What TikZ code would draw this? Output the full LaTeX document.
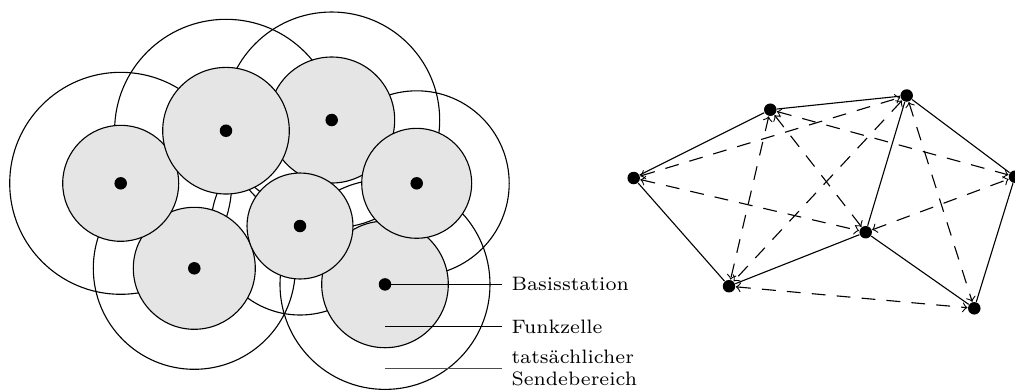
\documentclass[tikz,border=0pt]{standalone}
\begin{document}
\begin{tikzpicture}[x=0.36pt,y=-0.36pt,
  sendering/.style={draw=black, line width=0.4pt},
  cell/.style={draw=black, fill=black!10, line width=0.4pt},
  station/.style={circle, fill=black, draw=none, inner sep=0pt, minimum size=4.5pt},
  link/.style={draw=black, line width=0.4pt},
  dlink/.style={draw=black, line width=0.4pt, dash pattern=on 5pt off 4pt, <->, >=to},
  lbl/.style={anchor=west, font=\scriptsize, align=left}]
\useasboundingbox (0,0) rectangle (1015,390);
% transmission ranges
\foreach \cx/\cy/\R in {120.7/183.3/111, 226/130.7/111.4, 331.7/120/108, 416.7/183.3/92.5, 300/226/89, 194.3/268.3/101, 385/284.4/105}
  \draw[sendering] (\cx,\cy) circle [radius=\R];
% radio cells (stacking order matters)
\foreach \cx/\cy/\r in {331.7/120/63, 385/284.4/63.3, 194.3/268.3/61, 120.7/183.3/58, 226/130.7/63.3, 416.7/183.3/55, 300/226/53}
  \filldraw[cell] (\cx,\cy) circle [radius=\r];
% base stations
\node[station] (s1) at (120.7,183.3) {};
\node[station] (s2) at (226,130.7) {};
\node[station] (s3) at (331.7,120) {};
\node[station] (s4) at (416.7,183.3) {};
\node[station] (s5) at (300,226) {};
\node[station] (s6) at (194.3,268.3) {};
\node[station] (s7) at (385,284.4) {};
% legend
\node[lbl] (l1) at (501.7,284.4) {Basisstation};
\draw[link] (s7.center) -- (l1.west);
\coordinate (f0) at (385,326.7);
\node[lbl] (l2) at (501.7,326.7) {Funkzelle};
\draw[link] (f0) -- (l2.west);
\coordinate (t0) at (385,368.3);
\node[lbl] (l3) at (501.7,368.3) {tatsächlicher\\Sendebereich};
\draw[link, draw=black!70] (t0) -- (l3.west);
% graph
\node[station] (A) at (633.7,178) {};
\node[station] (B) at (770.3,109.7) {};
\node[station] (C) at (906.7,95.5) {};
\node[station] (D) at (1015,176.7) {};
\node[station] (E) at (865.7,232.2) {};
\node[station] (F) at (729,286.2) {};
\node[station] (G) at (974.3,308.3) {};
\foreach \a/\b in {A/B, B/C, C/D, A/F, F/E, E/C, E/G, D/G}
  \draw[link] (\a) -- (\b);
\foreach \a/\b in {A/C, A/E, B/F, B/E, B/D, C/F, C/G, E/D, F/G}
  \draw[dlink] (\a) -- (\b);
\end{tikzpicture}
\end{document}
